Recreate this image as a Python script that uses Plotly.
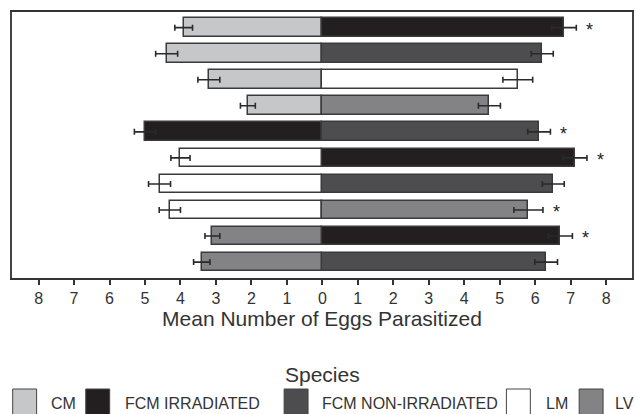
import plotly.graph_objects as go

# Species shown in the legend and their fill colours
species = ["CM", "FCM IRRADIATED", "FCM NON-IRRADIATED", "LM", "LV"]
species_colors = ["#c6c7c9", "#231f20", "#4d4d4f", "#ffffff", "#838386"]

# Each row compares two species: the left one is plotted to the left of zero
rows = list(range(10))
left_species = ["CM", "CM", "CM", "CM", "FCM IRRADIATED",
                "LM", "LM", "LM", "LV", "LV"]
left_mean = [3.91, 4.39, 3.20, 2.10, 5.00, 4.00, 4.59, 4.30, 3.10, 3.40]
left_se = [0.25, 0.31, 0.31, 0.21, 0.30, 0.27, 0.31, 0.30, 0.21, 0.23]

right_species = ["FCM IRRADIATED", "FCM NON-IRRADIATED", "LM", "LV",
                 "FCM NON-IRRADIATED", "FCM IRRADIATED", "FCM NON-IRRADIATED",
                 "LV", "FCM IRRADIATED", "FCM NON-IRRADIATED"]
right_mean = [6.81, 6.20, 5.51, 4.71, 6.11, 7.12, 6.51, 5.81, 6.71, 6.31]
right_se = [0.35, 0.31, 0.42, 0.31, 0.32, 0.34, 0.31, 0.41, 0.34, 0.32]

# Rows with a significant difference get an asterisk
significant = [True, False, False, False, True, True, False, True, True, False]

tick_values = list(range(-8, 9))
tick_labels = [str(abs(v)) for v in tick_values]

FONT = "Liberation Sans, Arial, sans-serif"
OUTLINE = "#3a3a3a"

W, H = 636, 414
M_L, M_R, M_T, M_B = 12, 2, 12, 136
plot_h = H - M_T - M_B
plot_w = W - M_L - M_R


def py(pix):
    """Pixel row (from top of page) to paper y."""
    return (H - M_B - pix) / plot_h


def px(pix):
    """Pixel column (from left of page) to paper x."""
    return (pix - M_L) / plot_w


fig = go.Figure()

for name, color in zip(species, species_colors):
    xs, ys, es = [], [], []
    for r in rows:
        if left_species[r] == name:
            xs.append(-left_mean[r]); ys.append(r); es.append(left_se[r])
        if right_species[r] == name:
            xs.append(right_mean[r]); ys.append(r); es.append(right_se[r])
    fig.add_trace(go.Bar(
        x=xs, y=ys, orientation="h", name=name, width=0.72,
        marker=dict(color=color, line=dict(color=OUTLINE, width=1.5)),
        error_x=dict(type="data", array=es, visible=True,
                     color="#2a2a2a", thickness=1.6, width=3),
        showlegend=False,
    ))

# Significance asterisks just beyond the right-hand error bar
for r in rows:
    if significant[r]:
        fig.add_annotation(
            x=right_mean[r] + right_se[r] + 0.38, y=r, text="*",
            showarrow=False, xanchor="center", yanchor="middle", yshift=-2,
            font=dict(family=FONT, size=18, color="#222222"),
        )

# Legend: title and swatches under the axis
fig.add_annotation(
    x=0.5, xref="paper", y=py(374), yref="paper", text="Species",
    showarrow=False, xanchor="center", yanchor="middle",
    font=dict(family=FONT, size=21, color="#333333"),
)
swatch_left = [12.7, 86, 285, 508, 581]
label_left = [49, 123, 321, 546, 615]
for name, color, sx, lx in zip(species, species_colors, swatch_left, label_left):
    fig.add_shape(
        type="rect", xref="paper", yref="paper",
        x0=px(sx), x1=px(sx + 24), y0=py(389), y1=py(418),
        fillcolor=color, line=dict(color="#444444", width=1),
    )
    fig.add_annotation(
        x=px(lx), xref="paper", y=py(403), yref="paper", text=name,
        showarrow=False, xanchor="left", yanchor="middle",
        font=dict(family=FONT, size=16, color="#333333"),
    )

fig.update_layout(
    width=W, height=H,
    margin=dict(l=M_L, r=M_R, t=M_T, b=M_B),
    paper_bgcolor="white", plot_bgcolor="white",
    barmode="overlay", bargap=0,
    font=dict(family=FONT, color="#333333"),
    xaxis=dict(
        range=[-8.75, 8.73], tickvals=tick_values, ticktext=tick_labels,
        ticks="outside", ticklen=5, tickwidth=1.5, tickcolor="#333333",
        showline=True, linecolor="#333333", linewidth=2, mirror=True,
        showgrid=False, zeroline=False,
        tickfont=dict(family=FONT, size=16, color="#333333"),
        title=dict(text="Mean Number of Eggs Parasitized", standoff=4,
                   font=dict(family=FONT, size=21, color="#333333")),
    ),
    yaxis=dict(
        range=[9.61, -0.6], showticklabels=False, ticks="",
        showline=True, linecolor="#444444", linewidth=1.5, mirror=True,
        showgrid=False, zeroline=False,
    ),
)

fig.write_html("out.html")
